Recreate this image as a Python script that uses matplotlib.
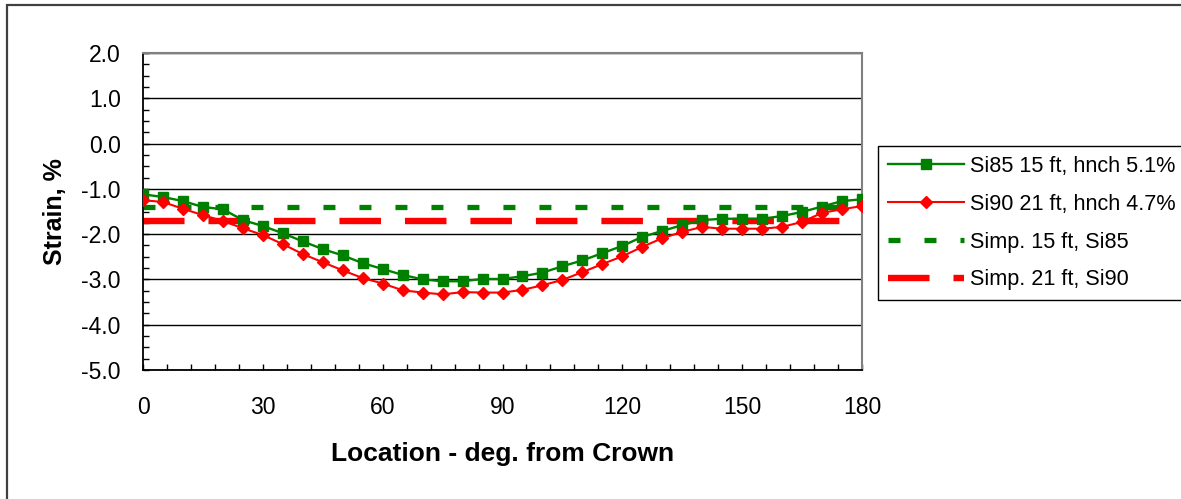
import matplotlib
matplotlib.use("Agg")
import matplotlib.pyplot as plt
from matplotlib.patches import Rectangle
from matplotlib.ticker import MultipleLocator, FormatStrFormatter

plt.rcParams['font.family'] = ['Liberation Sans', 'DejaVu Sans']

# data
location = [0, 5, 10, 15, 20, 25, 30, 35, 40, 45, 50, 55, 60, 65, 70, 75, 80, 85, 90,
            95, 100, 105, 110, 115, 120, 125, 130, 135, 140, 145, 150, 155, 160, 165,
            170, 175, 180]
si85_15ft = [-1.12, -1.18, -1.27, -1.40, -1.45, -1.69, -1.82, -1.98, -2.16, -2.33,
             -2.47, -2.64, -2.77, -2.90, -3.00, -3.04, -3.04, -2.99, -2.99,
             -2.93, -2.85, -2.71, -2.58, -2.42, -2.26, -2.06, -1.93, -1.80, -1.69,
             -1.66, -1.66, -1.66, -1.60, -1.51, -1.39, -1.27, -1.23]
si90_21ft = [-1.25, -1.29, -1.44, -1.58, -1.71, -1.87, -2.02, -2.22, -2.44, -2.62,
             -2.80, -2.97, -3.09, -3.24, -3.29, -3.33, -3.28, -3.29, -3.29,
             -3.23, -3.13, -3.01, -2.84, -2.66, -2.49, -2.28, -2.09, -1.95, -1.84,
             -1.88, -1.88, -1.88, -1.84, -1.73, -1.53, -1.45, -1.38]
simp_x = [0, 180]
simp_15ft = [-1.4, -1.4]
simp_21ft = [-1.7, -1.7]

labels = ['Si85 15 ft, hnch 5.1%', 'Si90 21 ft, hnch 4.7%',
          'Simp. 15 ft, Si85', 'Simp. 21 ft, Si90']

green = '#008000'
red = '#ff0000'

fig = plt.figure(figsize=(11.81, 4.99), dpi=100)
ax = fig.add_axes([143 / 1181, 1 - 370 / 499, (862 - 143) / 1181, (370 - 53) / 499])

# simplified lines first so the markers sit on top
l3, = ax.plot(simp_x, simp_15ft, color=green, lw=3.8, dashes=(2.27, 4.55),
              dash_capstyle='butt', zorder=2)
l4, = ax.plot(simp_x, simp_21ft, color=red, lw=4.6, dashes=(6.5, 3.75),
              dash_capstyle='butt', zorder=2)
l1, = ax.plot(location, si85_15ft, color=green, lw=1.7, marker='s', ms=6.8,
              mec=green, mfc=green, zorder=3)
l2, = ax.plot(location, si90_21ft, color=red, lw=1.5, marker='D', ms=6.3,
              mec=red, mfc=red, zorder=4)

ax.set_xlim(0, 180)
ax.set_ylim(-5, 2)
ax.xaxis.set_major_locator(MultipleLocator(30))
ax.xaxis.set_minor_locator(MultipleLocator(6))
ax.yaxis.set_major_locator(MultipleLocator(1))
ax.yaxis.set_minor_locator(MultipleLocator(0.25))
ax.yaxis.set_major_formatter(FormatStrFormatter('%.1f'))

ax.tick_params(axis='x', which='major', direction='in', length=4.5, width=1,
               pad=19, labelsize=16.5)
ax.tick_params(axis='x', which='minor', direction='in', length=4, width=1)
ax.tick_params(axis='y', which='major', direction='in', length=4, width=1,
               pad=16, labelsize=16.5)
ax.tick_params(axis='y', which='minor', direction='in', length=4, width=1)

ax.grid(axis='y', which='major', color='black', lw=1)
ax.set_axisbelow(True)

for s in ['left', 'bottom']:
    ax.spines[s].set_color('black')
    ax.spines[s].set_linewidth(1.3)
for s in ['top', 'right']:
    ax.spines[s].set_color('#808080')
    ax.spines[s].set_linewidth(1.5)

ax.set_xlabel('Location - deg. from Crown', fontsize=19, fontweight='bold', labelpad=16)
ax.set_ylabel('Strain, %', fontsize=18, fontweight='bold', labelpad=10)

leg = fig.legend([l1, l2, l3, l4], labels, loc='upper left',
                 bbox_to_anchor=(878 / 1181, 1 - 146 / 499), borderaxespad=0,
                 fontsize=15.6, handlelength=3.5, handletextpad=0.3,
                 labelspacing=0.78, borderpad=0.45, numpoints=1,
                 fancybox=False, framealpha=1)
leg.get_frame().set_edgecolor('black')
leg.get_frame().set_linewidth(1)

# outer chart border
fig.patches.append(Rectangle((6.5 / 1181, -0.1), 1.2, 1.1 - 5.5 / 499,
                             transform=fig.transFigure, fill=False,
                             edgecolor='#404040', lw=1.6, zorder=0))

fig.savefig('out.png', dpi=100)
